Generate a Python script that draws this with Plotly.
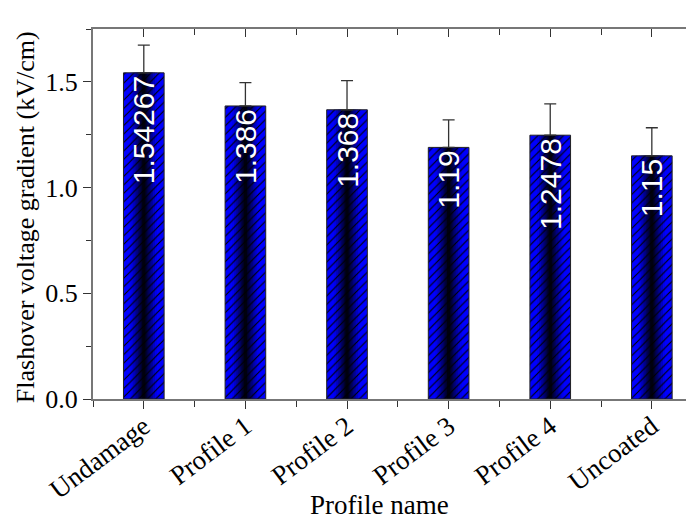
import plotly.graph_objects as go

categories = ["Undamage", "Profile 1", "Profile 2", "Profile 3", "Profile 4", "Uncoated"]
values = [1.54267, 1.386, 1.368, 1.19, 1.2478, 1.15]
value_labels = ["1.54267", "1.386", "1.368", "1.19", "1.2478", "1.15"]
errors = [0.131, 0.110, 0.138, 0.130, 0.148, 0.133]
y_ticks = [0.0, 0.5, 1.0, 1.5]

x_pos = list(range(len(categories)))
BAR_W = 0.4

# horizontal gradient (blue edge -> black centre) built from stacked narrower bars
grad_fracs = [1.0, 0.65, 0.55, 0.45, 0.37, 0.29, 0.22, 0.15, 0.08]
grad_blue = [255, 235, 196, 160, 130, 100, 72, 45, 15]

SERIF = "Liberation Serif"
fig = go.Figure()
for f, b in zip(grad_fracs, grad_blue):
    fig.add_trace(go.Bar(
        x=x_pos, y=values, width=BAR_W * f,
        marker=dict(color=f"rgb(0,0,{b})", line=dict(width=0)),
        hoverinfo="skip", showlegend=False,
    ))

fig.add_trace(go.Bar(
    x=x_pos, y=values, width=BAR_W, xaxis="x2",
    marker=dict(
        color="rgba(0,0,0,0)",
        line=dict(color="#222222", width=1),
        pattern=dict(shape="/", fgcolor="black", bgcolor="rgba(0,0,0,0)",
                     size=6, solidity=0.18, fillmode="replace"),
    ),
    error_y=dict(type="data", array=errors, arrayminus=[0] * len(errors),
                 symmetric=False, color="#333333", thickness=1.3, width=6),
    text=value_labels, textposition="inside", insidetextanchor="end",
    textangle=-90, constraintext="none",
    insidetextfont=dict(family="Liberation Sans", size=30, color="white"),
    showlegend=False,
))

axis_col = "#777777"
minor_vals = [i - 0.5 for i in range(len(categories) + 1)]
fig.update_layout(
    width=686, height=514,
    barmode="overlay",
    plot_bgcolor="white", paper_bgcolor="white",
    margin=dict(l=85, r=0, t=21, b=123, autoexpand=False),
    font=dict(family=SERIF, size=25, color="black"),
    xaxis=dict(
        range=[-0.5, 5.415], tickvals=x_pos, ticktext=categories,
        tickangle=-37, ticks="outside", ticklen=8, tickcolor="#333",
        ticklabelstandoff=-9,
        showline=True, linecolor=axis_col, linewidth=2, showgrid=False,
        zeroline=False, automargin=False,
        minor=dict(tickvals=minor_vals, ticks="outside", ticklen=6, tickcolor="#333"),
        tickfont=dict(family=SERIF, size=27),
    ),
    xaxis2=dict(
        overlaying="x", anchor="y", side="top", matches="x",
        range=[-0.5, 5.415], tickvals=x_pos, showticklabels=False,
        ticks="inside", ticklen=8, tickcolor="#333",
        showline=True, linecolor=axis_col, linewidth=2, showgrid=False,
        zeroline=False,
        minor=dict(tickvals=minor_vals, ticks="inside", ticklen=6, tickcolor="#333"),
    ),
    yaxis=dict(
        range=[0, 1.75], tickvals=y_ticks, tickformat=".1f",
        ticks="outside", ticklen=8, tickcolor="#333",
        showline=True, linecolor=axis_col, linewidth=2, showgrid=False,
        zeroline=False, automargin=False,
        minor=dict(dtick=0.25, ticks="outside", ticklen=5, tickcolor="#333"),
        tickfont=dict(family=SERIF, size=26),
    ),
    annotations=[
        dict(text="Profile name", xref="paper", yref="paper", x=0.4775, y=-0.2865,
             xanchor="center", yanchor="middle", showarrow=False,
             font=dict(family=SERIF, size=27)),
        dict(text="Flashover voltage gradient (kV/cm)", xref="paper", yref="paper",
             x=-0.1123, y=0.49, xanchor="center", yanchor="middle", textangle=-90,
             showarrow=False, font=dict(family=SERIF, size=26)),
    ],
)

fig.write_html("out.html")
